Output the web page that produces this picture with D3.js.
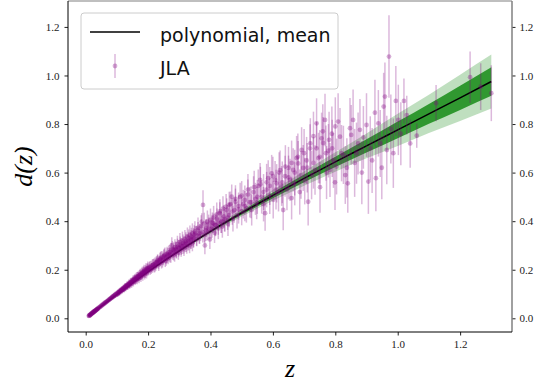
<!DOCTYPE html>
<html>
<head>
<meta charset="utf-8">
<script src="https://cdn.jsdelivr.net/npm/d3@7"></script>
<style>
  body { margin: 0; background: #fff; }
  svg { display: block; }
</style>
</head>
<body>
<svg id="chart"></svg>
<script>
// polynomial fit: mean and 1/2 sigma half-widths
const fitZ = [0.01, 0.1, 0.2, 0.3, 0.4, 0.5, 0.6, 0.7, 0.8, 0.9, 1.0, 1.1, 1.2, 1.3];
const fitMean = [0.0098, 0.098, 0.192, 0.278, 0.358, 0.434, 0.506, 0.576, 0.644, 0.710, 0.776, 0.842, 0.908, 0.975];
const fitSigma1 = [0, 0.001, 0.002, 0.003, 0.005, 0.008, 0.012, 0.016, 0.021, 0.027, 0.034, 0.041, 0.050, 0.059];
const fitSigma2 = [0, 0.002, 0.004, 0.006, 0.010, 0.015, 0.022, 0.030, 0.040, 0.051, 0.066, 0.079, 0.095, 0.111];

// JLA points [z, d, err], grouped by redshift range
const jlaLowZ = [
  [0.010,0.010,0.003],[0.011,0.011,0.003],[0.012,0.012,0.003],[0.013,0.012,0.004],[0.014,0.014,0.003],
  [0.015,0.015,0.004],[0.016,0.016,0.003],[0.017,0.017,0.004],[0.018,0.019,0.004],[0.019,0.019,0.003],
  [0.020,0.020,0.004],[0.021,0.022,0.004],[0.022,0.022,0.004],[0.023,0.024,0.004],[0.024,0.024,0.005],
  [0.025,0.026,0.004],[0.026,0.026,0.005],[0.027,0.028,0.004],[0.028,0.028,0.005],[0.029,0.030,0.005],
  [0.030,0.031,0.005],[0.031,0.031,0.004],[0.032,0.033,0.005],[0.033,0.034,0.005],[0.034,0.034,0.005],
  [0.035,0.036,0.005],[0.036,0.037,0.006],[0.037,0.038,0.005],[0.038,0.039,0.006],[0.039,0.040,0.005],
  [0.040,0.041,0.006],[0.042,0.043,0.006],[0.044,0.046,0.006],[0.046,0.047,0.006],[0.048,0.049,0.007],
  [0.050,0.052,0.006],[0.052,0.053,0.007],[0.054,0.056,0.007],[0.056,0.057,0.007],[0.058,0.060,0.008],
  [0.060,0.061,0.007],[0.062,0.064,0.008],[0.064,0.065,0.008],[0.066,0.068,0.008],[0.068,0.069,0.009],
  [0.070,0.072,0.008],[0.072,0.073,0.009],[0.074,0.076,0.009],[0.076,0.078,0.009],[0.078,0.079,0.010],
  [0.080,0.083,0.009],[0.082,0.083,0.010],[0.084,0.087,0.010],[0.086,0.087,0.011],[0.088,0.091,0.010],
  [0.090,0.091,0.011],[0.092,0.094,0.011],[0.094,0.097,0.012],[0.096,0.096,0.011],[0.098,0.101,0.012]
];

const jlaMidZ = [
  [0.101,0.102,0.012],[0.103,0.106,0.013],[0.105,0.104,0.012],[0.107,0.110,0.013],[0.109,0.108,0.014],
  [0.111,0.114,0.013],[0.113,0.112,0.014],[0.115,0.118,0.014],[0.117,0.116,0.015],[0.119,0.121,0.014],
  [0.121,0.124,0.015],[0.123,0.121,0.015],[0.125,0.127,0.016],[0.127,0.130,0.015],[0.129,0.127,0.016],
  [0.131,0.133,0.016],[0.133,0.137,0.017],[0.135,0.134,0.016],[0.137,0.139,0.017],[0.139,0.143,0.018],
  [0.141,0.138,0.017],[0.143,0.146,0.018],[0.145,0.149,0.018],[0.147,0.144,0.019],[0.149,0.152,0.018],
  [0.151,0.157,0.019],[0.153,0.150,0.019],[0.155,0.158,0.020],[0.157,0.163,0.020],[0.159,0.156,0.019],
  [0.161,0.164,0.021],[0.163,0.170,0.020],[0.165,0.161,0.021],[0.167,0.169,0.022],[0.169,0.175,0.021],
  [0.171,0.166,0.022],[0.173,0.176,0.022],[0.175,0.181,0.023],[0.177,0.172,0.022],[0.179,0.183,0.023],
  [0.181,0.188,0.024],[0.183,0.178,0.023],[0.185,0.190,0.024],[0.187,0.196,0.025],[0.189,0.184,0.024],
  [0.191,0.193,0.025],[0.193,0.201,0.026],[0.195,0.189,0.025],[0.197,0.199,0.026],[0.199,0.207,0.027],
  [0.201,0.196,0.020],[0.204,0.210,0.022],[0.207,0.200,0.021],[0.210,0.214,0.023],[0.213,0.207,0.020],
  [0.216,0.220,0.024],[0.219,0.211,0.022],[0.222,0.225,0.025],[0.225,0.217,0.021],[0.228,0.230,0.026],
  [0.231,0.240,0.023],[0.234,0.222,0.027],[0.237,0.236,0.022],[0.240,0.245,0.028],[0.243,0.229,0.024],
  [0.246,0.250,0.026],[0.249,0.241,0.023],[0.252,0.258,0.029],[0.255,0.236,0.025],[0.258,0.252,0.027],
  [0.261,0.265,0.030],[0.264,0.247,0.024],[0.267,0.262,0.028],[0.270,0.272,0.031],[0.273,0.255,0.026],
  [0.276,0.300,0.034],[0.279,0.268,0.027],[0.282,0.281,0.032],[0.285,0.262,0.029],[0.288,0.286,0.030],
  [0.291,0.274,0.028],[0.294,0.295,0.033],[0.297,0.271,0.030],[0.300,0.290,0.031],[0.303,0.303,0.034],
  [0.306,0.283,0.029],[0.309,0.297,0.032],[0.312,0.310,0.035],[0.315,0.288,0.031],[0.318,0.305,0.033],
  [0.321,0.318,0.036],[0.324,0.296,0.030],[0.327,0.313,0.034],[0.330,0.330,0.036],[0.333,0.300,0.032],
  [0.336,0.320,0.035],[0.339,0.336,0.037],[0.342,0.309,0.033],[0.345,0.327,0.036],[0.348,0.345,0.038]
];

const jlaSDSS = [
  [0.102,0.099,0.010],[0.106,0.107,0.011],[0.110,0.111,0.012],[0.114,0.116,0.011],[0.118,0.119,0.013],
  [0.122,0.120,0.012],[0.126,0.129,0.014],[0.130,0.131,0.013],[0.134,0.133,0.015],[0.138,0.141,0.014],
  [0.142,0.142,0.016],[0.146,0.150,0.015],[0.150,0.149,0.017],[0.154,0.159,0.016],[0.158,0.160,0.018],
  [0.162,0.160,0.017],[0.166,0.172,0.019],[0.170,0.170,0.018],[0.174,0.180,0.020],[0.178,0.177,0.019],
  [0.182,0.185,0.021],[0.186,0.192,0.020],[0.190,0.188,0.022],[0.194,0.196,0.021],[0.198,0.204,0.023],
  [0.202,0.203,0.022],[0.206,0.212,0.024],[0.210,0.205,0.023],[0.214,0.218,0.025],[0.218,0.222,0.024],
  [0.222,0.216,0.026],[0.226,0.230,0.025],[0.230,0.235,0.027],[0.234,0.230,0.026],[0.238,0.242,0.028],
  [0.242,0.250,0.027],[0.246,0.238,0.029],[0.250,0.255,0.028],[0.254,0.262,0.030],[0.258,0.245,0.029],
  [0.262,0.258,0.031],[0.266,0.270,0.030],[0.270,0.262,0.032],[0.274,0.280,0.031],[0.278,0.285,0.033],
  [0.282,0.270,0.032],[0.286,0.292,0.034],[0.290,0.282,0.033],[0.294,0.305,0.035],[0.298,0.288,0.034],
  [0.302,0.315,0.036],[0.306,0.296,0.035],[0.310,0.320,0.037],[0.314,0.302,0.036],[0.318,0.326,0.038],
  [0.322,0.310,0.037],[0.326,0.335,0.039],[0.330,0.318,0.038],[0.334,0.342,0.040],[0.338,0.325,0.039],
  [0.342,0.350,0.041],[0.346,0.332,0.040],[0.350,0.358,0.042],[0.355,0.340,0.041],[0.360,0.372,0.043],
  [0.365,0.348,0.042],[0.370,0.380,0.044],[0.375,0.355,0.043],[0.380,0.390,0.045],[0.385,0.362,0.044],
  [0.390,0.398,0.046],[0.395,0.370,0.045],[0.400,0.405,0.047],[0.405,0.378,0.046],[0.410,0.415,0.048],
  [0.415,0.385,0.047],[0.420,0.428,0.049],[0.425,0.392,0.048],[0.430,0.440,0.050],[0.435,0.400,0.049],
  [0.440,0.452,0.051],[0.445,0.408,0.050],[0.450,0.460,0.052],[0.455,0.415,0.051],[0.460,0.468,0.053],
  [0.470,0.440,0.055],[0.480,0.492,0.056],[0.490,0.448,0.058],[0.500,0.505,0.060],[0.510,0.462,0.062],
  [0.520,0.530,0.064],[0.530,0.478,0.066],[0.540,0.540,0.068],[0.550,0.500,0.070],[0.560,0.552,0.072],
  [0.570,0.520,0.074],[0.580,0.560,0.076],[0.590,0.545,0.078],[0.600,0.585,0.080],[0.610,0.530,0.082],
  [0.620,0.600,0.084],[0.630,0.560,0.086],[0.640,0.625,0.088],[0.650,0.580,0.090],[0.660,0.640,0.092],
  [0.670,0.600,0.094],[0.680,0.665,0.096],[0.690,0.590,0.098],[0.700,0.680,0.100],[0.710,0.620,0.102],
  [0.720,0.720,0.104],[0.730,0.640,0.106],[0.740,0.700,0.108],[0.750,0.665,0.110],[0.760,0.770,0.112],
  [0.770,0.680,0.114],[0.780,0.735,0.116],[0.790,0.700,0.118],[0.800,0.790,0.120]
];

const jlaHighZ = [
  [0.352,0.350,0.030],[0.356,0.325,0.028],[0.360,0.365,0.032],[0.364,0.338,0.030],[0.368,0.352,0.034],
  [0.372,0.398,0.035],[0.376,0.467,0.060],[0.380,0.345,0.033],[0.382,0.300,0.036],[0.386,0.372,0.037],
  [0.390,0.356,0.035],[0.394,0.389,0.038],[0.398,0.325,0.040],[0.402,0.368,0.039],[0.406,0.395,0.041],
  [0.409,0.391,0.040],[0.413,0.352,0.042],[0.417,0.383,0.043],[0.421,0.410,0.042],[0.425,0.370,0.044],
  [0.430,0.433,0.045],[0.434,0.395,0.044],[0.438,0.378,0.046],[0.442,0.420,0.047],[0.446,0.402,0.046],
  [0.452,0.446,0.048],[0.456,0.388,0.049],[0.460,0.425,0.050],[0.464,0.470,0.052],[0.468,0.501,0.050],
  [0.472,0.410,0.053],[0.476,0.445,0.052],[0.480,0.480,0.054],[0.485,0.425,0.055],[0.490,0.462,0.056],
  [0.495,0.500,0.058],[0.500,0.440,0.057],[0.505,0.470,0.059],[0.510,0.487,0.060],[0.515,0.455,0.061],
  [0.520,0.510,0.062],[0.526,0.478,0.063],[0.532,0.446,0.064],[0.538,0.520,0.065],[0.544,0.492,0.066],
  [0.548,0.475,0.067],[0.553,0.545,0.068],[0.559,0.570,0.070],[0.564,0.500,0.069],[0.570,0.470,0.071],
  [0.575,0.433,0.072],[0.580,0.530,0.073],[0.585,0.577,0.074],[0.590,0.505,0.075],[0.596,0.597,0.076],
  [0.601,0.488,0.077],[0.607,0.570,0.078],[0.612,0.556,0.079],[0.618,0.520,0.080],[0.623,0.610,0.081],
  [0.628,0.545,0.082],[0.633,0.446,0.083],[0.639,0.585,0.084],[0.645,0.530,0.085],[0.650,0.620,0.086],
  [0.655,0.570,0.087],[0.660,0.495,0.088],[0.665,0.611,0.089],[0.670,0.555,0.090],[0.676,0.660,0.091],
  [0.681,0.638,0.092],[0.686,0.520,0.093],[0.692,0.693,0.094],[0.697,0.619,0.095],[0.702,0.565,0.096],
  [0.708,0.650,0.097],[0.713,0.480,0.098],[0.719,0.700,0.099],[0.724,0.590,0.100],[0.730,0.750,0.101],
  [0.735,0.611,0.102],[0.740,0.803,0.103],[0.746,0.660,0.104],[0.751,0.540,0.105],[0.756,0.741,0.106],
  [0.761,0.722,0.107],[0.767,0.817,0.108],[0.772,0.600,0.109],[0.778,0.690,0.110],[0.783,0.611,0.111],
  [0.789,0.760,0.112],[0.794,0.650,0.113],[0.799,0.560,0.114],[0.804,0.625,0.115],[0.809,0.810,0.117],
  [0.815,0.748,0.118],[0.820,0.680,0.116],[0.826,0.673,0.120],[0.832,0.590,0.119],[0.837,0.620,0.122],
  [0.840,0.556,0.121],[0.847,0.783,0.124],[0.851,0.755,0.123],[0.857,0.817,0.125],[0.862,0.640,0.140],
  [0.868,0.680,0.126],[0.873,0.720,0.128],[0.879,0.776,0.127],[0.885,0.600,0.130],[0.890,0.745,0.129],
  [0.900,0.796,0.131],[0.906,0.563,0.133],[0.912,0.700,0.132],[0.918,0.650,0.134],[0.927,0.847,0.135],
  [0.930,0.577,0.136],[0.938,0.803,0.137],[0.944,0.720,0.138],[0.949,0.620,0.130],[0.955,0.872,0.139],
  [0.959,0.913,0.140],[0.965,0.693,0.141],[0.972,1.078,0.170],[0.978,0.780,0.142],[0.986,0.680,0.143],
  [0.994,0.895,0.144],[1.002,0.817,0.145],[1.010,0.760,0.130],[1.020,0.895,0.093],[1.029,0.837,0.080],
  [1.040,0.720,0.100],[1.061,0.752,0.050]
];

const jlaHST = [
  [1.123,0.886,0.075],[1.232,0.993,0.106],[1.266,0.954,0.096],[1.300,0.927,0.115]
];

const xTicks = [0.0, 0.2, 0.4, 0.6, 0.8, 1.0, 1.2];
const yTicks = [0.0, 0.2, 0.4, 0.6, 0.8, 1.0, 1.2];

const width = 540, height = 385;
const mLeft = 68, mRight = 512, mTop = 1, mBottom = 332;
const purple = "#800080";

const svg = d3.select("#chart").attr("width", width).attr("height", height);

const x = d3.scaleLinear().domain([-0.0567, 1.3663]).range([mLeft, mRight]);
const y = d3.scaleLinear().domain([-0.0564, 1.3067]).range([mBottom, mTop]);

const fit = fitZ.map((z, i) => ({ z, m: fitMean[i], s1: fitSigma1[i], s2: fitSigma2[i] }));
const jla = [...jlaLowZ, ...jlaMidZ, ...jlaSDSS, ...jlaHighZ, ...jlaHST].map(([z, d, e]) => ({ z, d, e }));

const plot = svg.append("g");

// 2 sigma band, then 1 sigma band
plot.append("path")
  .datum(fit)
  .attr("fill", "#008000")
  .attr("fill-opacity", 0.25)
  .attr("d", d3.area().x(d => x(d.z)).y0(d => y(d.m - d.s2)).y1(d => y(d.m + d.s2)).curve(d3.curveMonotoneX));

plot.append("path")
  .datum(fit)
  .attr("fill", "#008000")
  .attr("fill-opacity", 0.75)
  .attr("d", d3.area().x(d => x(d.z)).y0(d => y(d.m - d.s1)).y1(d => y(d.m + d.s1)).curve(d3.curveMonotoneX));

plot.append("path")
  .datum(fit)
  .attr("fill", "none")
  .attr("stroke", "#000")
  .attr("stroke-width", 1.5)
  .attr("d", d3.line().x(d => x(d.z)).y(d => y(d.m)).curve(d3.curveMonotoneX));

// error bars + markers
plot.append("g")
  .attr("stroke", purple)
  .attr("stroke-opacity", 0.28)
  .attr("stroke-width", 1.5)
  .selectAll("line")
  .data(jla)
  .join("line")
  .attr("x1", d => x(d.z)).attr("x2", d => x(d.z))
  .attr("y1", d => y(d.d - d.e)).attr("y2", d => y(d.d + d.e));

plot.append("g")
  .attr("fill", purple)
  .attr("fill-opacity", 0.32)
  .selectAll("circle")
  .data(jla)
  .join("circle")
  .attr("cx", d => x(d.z))
  .attr("cy", d => y(d.d))
  .attr("r", 2.4);

// axes
const fmt = d3.format(".1f");
const tickFont = "'Liberation Serif', 'DejaVu Serif', serif";

function styleAxis(g) {
  g.select(".domain").remove();
  g.selectAll("text").attr("font-family", tickFont).attr("font-size", 11).attr("fill", "#222");
  g.selectAll("line").attr("stroke", "#222");
}

svg.append("g")
  .attr("transform", `translate(0,${mBottom})`)
  .call(d3.axisBottom(x).tickValues(xTicks).tickFormat(fmt).tickSize(3.5).tickPadding(5))
  .call(styleAxis);

svg.append("g")
  .attr("transform", `translate(${mLeft},0)`)
  .call(d3.axisLeft(y).tickValues(yTicks).tickFormat(fmt).tickSize(3.5).tickPadding(5))
  .call(styleAxis);

svg.append("g")
  .attr("transform", `translate(${mRight},0)`)
  .call(d3.axisRight(y).tickValues(yTicks).tickFormat(fmt).tickSize(3.5).tickPadding(4))
  .call(styleAxis);

// spines
svg.append("line").attr("x1", mLeft).attr("x2", mRight).attr("y1", mTop).attr("y2", mTop)
  .attr("stroke", "#808080").attr("stroke-width", 1.2);
svg.append("line").attr("x1", mRight).attr("x2", mRight).attr("y1", mTop).attr("y2", mBottom)
  .attr("stroke", "#808080").attr("stroke-width", 1.5);
svg.append("line").attr("x1", mLeft).attr("x2", mLeft).attr("y1", mTop).attr("y2", mBottom)
  .attr("stroke", "#000").attr("stroke-width", 1);
svg.append("line").attr("x1", mLeft).attr("x2", mRight).attr("y1", mBottom).attr("y2", mBottom)
  .attr("stroke", "#000").attr("stroke-width", 1);

// axis labels
svg.append("text")
  .attr("x", (mLeft + mRight) / 2)
  .attr("y", 377)
  .attr("text-anchor", "middle")
  .attr("font-family", tickFont)
  .attr("font-style", "italic")
  .attr("font-size", 26)
  .text("z");

svg.append("text")
  .attr("transform", `translate(32,${(mTop + mBottom) / 2}) rotate(-90)`)
  .attr("text-anchor", "middle")
  .attr("font-family", tickFont)
  .attr("font-style", "italic")
  .attr("font-size", 26)
  .text("d(z)");

// legend
const legend = svg.append("g");
legend.append("rect")
  .attr("x", 81).attr("y", 13).attr("width", 257).attr("height", 76)
  .attr("rx", 3)
  .attr("fill", "#fff").attr("fill-opacity", 0.8)
  .attr("stroke", "#ccc").attr("stroke-width", 1);
legend.append("line")
  .attr("x1", 90).attr("x2", 140).attr("y1", 32).attr("y2", 32)
  .attr("stroke", "#000").attr("stroke-width", 1.5);
legend.append("line")
  .attr("x1", 115).attr("x2", 115).attr("y1", 54).attr("y2", 78)
  .attr("stroke", purple).attr("stroke-opacity", 0.28).attr("stroke-width", 1.5);
legend.append("circle")
  .attr("cx", 115).attr("cy", 66).attr("r", 2.4)
  .attr("fill", purple).attr("fill-opacity", 0.32);
legend.selectAll("text.lab")
  .data([["polynomial, mean", 41.5], ["JLA", 75]])
  .join("text")
  .attr("x", 160)
  .attr("y", d => d[1])
  .attr("font-family", "'DejaVu Sans', sans-serif")
  .attr("font-size", 19)
  .attr("fill", "#111")
  .text(d => d[0]);
</script>
</body>
</html>
